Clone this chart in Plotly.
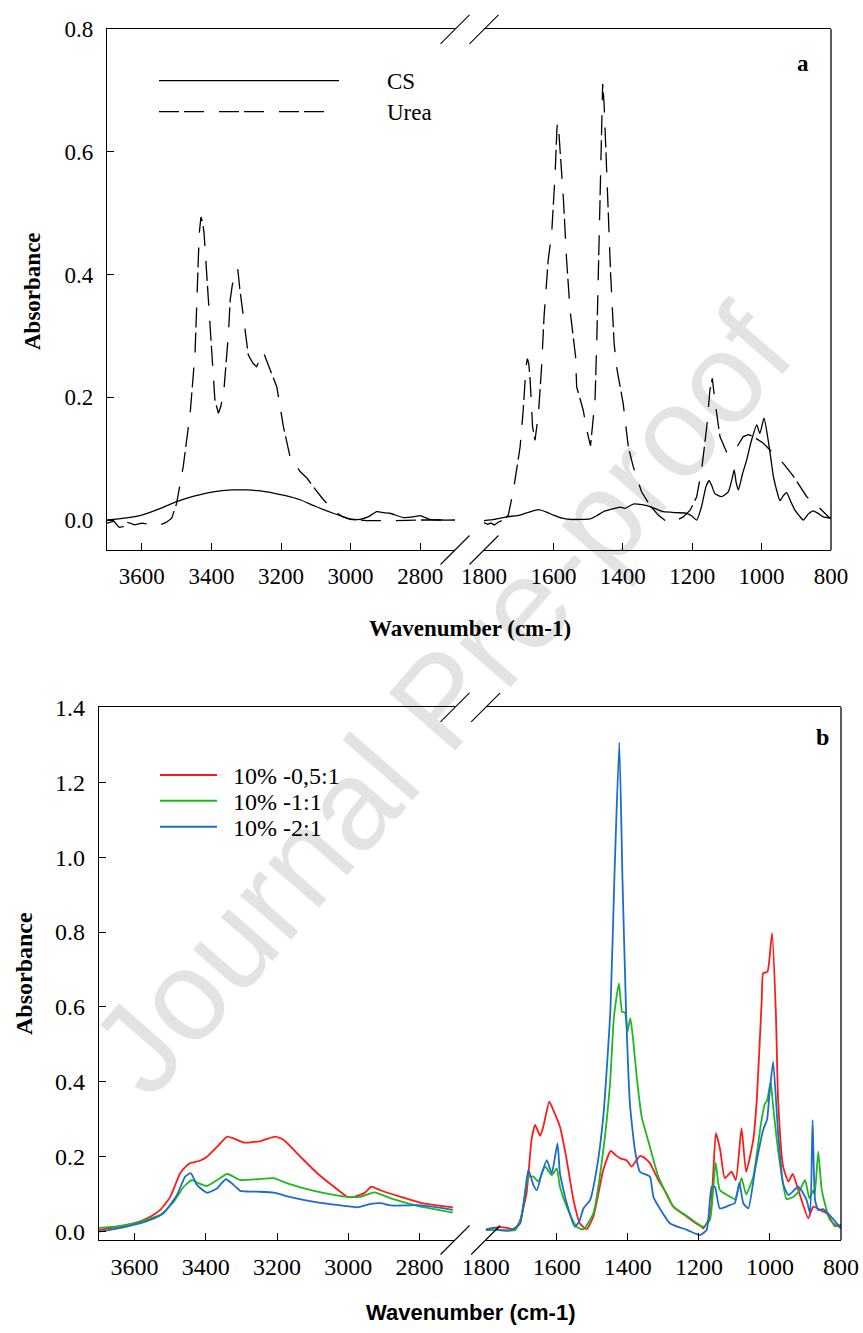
import plotly.graph_objects as go

# ---------------- data (wavenumber cm-1, absorbance) ----------------
cs_wn = [3700, 3650, 3600, 3550, 3500, 3450, 3395, 3340, 3298, 3241, 3190, 3145, 3100, 3050, 3002, 2973,
         2950, 2925, 2905, 2887, 2849, 2820, 2800, 2785, 2772, 2740, 2700,
         1800, 1770, 1735, 1696, 1670, 1643, 1620, 1600, 1575, 1552, 1520, 1494, 1475, 1456, 1430, 1408,
         1394, 1370, 1345, 1322, 1300, 1283, 1245, 1216, 1200, 1187, 1173, 1160, 1151, 1143, 1135, 1116,
         1096, 1086, 1079, 1073, 1067, 1055, 1043, 1030, 1014, 1005, 993, 981, 972, 966, 955, 947, 937,
         928, 916, 904, 890, 880, 865, 851, 835, 822, 800]
cs_abs = [0.000, 0.003, 0.008, 0.018, 0.030, 0.039, 0.046, 0.049, 0.049, 0.046, 0.040, 0.033, 0.022, 0.011,
          0.002, 0.001, 0.005, 0.0135, 0.012, 0.011, 0.004, 0.005, 0.007, 0.004, 0.001, 0.000, 0.000,
          -0.001, 0.001, 0.005, 0.008, 0.013, 0.017, 0.013, 0.008, 0.003, 0.001, 0.001, 0.002, 0.007,
          0.0135, 0.018, 0.021, 0.019, 0.026, 0.025, 0.022, 0.017, 0.0135, 0.012, 0.011, 0.006, 0.000,
          0.022, 0.055, 0.064, 0.055, 0.0435, 0.038, 0.046, 0.065, 0.0815, 0.060, 0.049, 0.075, 0.098,
          0.128, 0.155, 0.141, 0.166, 0.130, 0.095, 0.071, 0.045, 0.0315, 0.040, 0.0445, 0.030, 0.016,
          0.006, 0.000, 0.010, 0.015, 0.010, 0.005, 0.003]

urea_wn = [3700, 3680, 3665, 3654, 3640, 3620, 3600, 3580, 3560, 3548, 3530, 3514, 3500, 3481, 3461, 3447,
           3442, 3435, 3430, 3425, 3421, 3413, 3404, 3399, 3390, 3380, 3373, 3364, 3351, 3346, 3340, 3329,
           3324, 3318, 3308, 3303, 3294, 3280, 3270, 3251, 3240, 3232, 3212, 3193, 3174, 3145, 3125, 3107,
           3078, 3050, 3025, 3002, 2954, 2877, 2800, 2700,
           1800, 1790, 1780, 1770, 1760, 1745, 1730, 1715, 1696, 1687, 1679, 1675, 1671, 1667, 1660, 1653,
           1643, 1634, 1627, 1615, 1605, 1595, 1590, 1588, 1584, 1581, 1571, 1562, 1552, 1536, 1533, 1514,
           1504, 1493, 1480, 1475, 1465, 1461, 1458, 1454, 1444, 1435, 1425, 1418, 1399, 1384, 1370, 1346,
           1322, 1298, 1273, 1254, 1226, 1206, 1187, 1173, 1158, 1149, 1142, 1135, 1120, 1101, 1083, 1072,
           1053, 1038, 1024, 995, 966, 937, 908, 870, 841, 803]
urea_abs = [-0.005, -0.002, -0.012, -0.011, -0.004, -0.008, -0.005, -0.007, -0.009, -0.008, -0.004, 0.003,
            0.027, 0.087, 0.174, 0.272, 0.370, 0.467, 0.494, 0.485, 0.467, 0.397, 0.315, 0.261, 0.196,
            0.174, 0.185, 0.212, 0.304, 0.359, 0.383, 0.409, 0.408, 0.375, 0.331, 0.315, 0.269, 0.255,
            0.250, 0.274, 0.258, 0.245, 0.217, 0.152, 0.103, 0.079, 0.068, 0.054, 0.033, 0.016, 0.006,
            0.001, -0.001, -0.001, 0.000, 0.000,
            -0.004, -0.007, -0.005, -0.008, -0.004, 0.000, 0.008, 0.049, 0.119, 0.179, 0.250, 0.263, 0.255,
            0.228, 0.152, 0.130, 0.174, 0.250, 0.331, 0.424, 0.467, 0.565, 0.636, 0.649, 0.630, 0.608,
            0.522, 0.424, 0.342, 0.266, 0.217, 0.179, 0.147, 0.121, 0.196, 0.290, 0.530, 0.650, 0.711,
            0.680, 0.532, 0.400, 0.288, 0.250, 0.190, 0.119, 0.087, 0.046, 0.024, 0.008, -0.003, -0.003,
            0.005, 0.016, 0.038, 0.0815, 0.152, 0.212, 0.231, 0.196, 0.136, 0.111, 0.108, 0.119, 0.136,
            0.139, 0.136, 0.125, 0.109, 0.092, 0.071, 0.038, 0.024, 0.003]

r05_wn = [3700, 3650, 3603, 3560, 3528, 3500, 3472, 3455, 3444, 3415, 3397, 3368, 3340, 3322, 3293, 3246,
          3228, 3204, 3181, 3134, 3087, 3040, 3002, 2983, 2955, 2935, 2927, 2908, 2852, 2796, 2750, 2706,
          1800, 1780, 1760, 1740, 1718, 1703, 1685, 1671, 1661, 1647, 1638, 1621, 1610, 1591, 1572, 1553,
          1535, 1516, 1497, 1469, 1448, 1435, 1422, 1403, 1389, 1366, 1350, 1338, 1314, 1290, 1272, 1234,
          1206, 1195, 1188, 1169, 1160, 1152, 1140, 1127, 1108, 1096, 1080, 1067, 1047, 1037, 1023, 1019,
          1007, 994, 983, 977, 963, 948, 936, 920, 892, 878, 859, 840, 817, 800]
r05_abs = [0.005, 0.012, 0.022, 0.038, 0.058, 0.093, 0.156, 0.175, 0.183, 0.190, 0.200, 0.227, 0.254, 0.249,
           0.238, 0.242, 0.248, 0.254, 0.245, 0.200, 0.156, 0.120, 0.093, 0.093, 0.103, 0.120, 0.118,
           0.110, 0.093, 0.077, 0.070, 0.065,
           0.006, 0.010, 0.012, 0.010, 0.006, 0.031, 0.103, 0.245, 0.285, 0.256, 0.280, 0.347, 0.325,
           0.280, 0.191, 0.085, 0.022, 0.007, 0.040, 0.165, 0.216, 0.205, 0.196, 0.190, 0.174, 0.202,
           0.195, 0.183, 0.138, 0.100, 0.067, 0.040, 0.021, 0.015, 0.009, 0.040, 0.150, 0.263, 0.218,
           0.143, 0.160, 0.138, 0.276, 0.160, 0.245, 0.352, 0.620, 0.690, 0.694, 0.797, 0.574, 0.352,
           0.174, 0.134, 0.154, 0.111, 0.036, 0.067, 0.058, 0.049, 0.015, 0.018]

r1_wn = [3700, 3650, 3603, 3528, 3490, 3462, 3439, 3420, 3397, 3368, 3340, 3303, 3256, 3209, 3171, 3087,
         3002, 2965, 2927, 2880, 2805, 2706,
         1800, 1760, 1718, 1703, 1689, 1680, 1666, 1652, 1633, 1614, 1600, 1591, 1572, 1544, 1525, 1497,
         1469, 1450, 1439, 1425, 1416, 1408, 1401, 1393, 1385, 1375, 1361, 1338, 1314, 1272, 1234, 1206,
         1188, 1169, 1153, 1141, 1112, 1098, 1080, 1067, 1047, 1025, 1015, 1008, 998, 991, 977, 953, 934,
         916, 901, 889, 878, 874, 864, 854, 831, 800]
r1_abs = [0.010, 0.014, 0.022, 0.045, 0.080, 0.120, 0.138, 0.129, 0.122, 0.138, 0.154, 0.138, 0.140, 0.143,
          0.129, 0.107, 0.093, 0.093, 0.105, 0.089, 0.069, 0.051,
          0.004, 0.004, 0.004, 0.027, 0.103, 0.147, 0.147, 0.134, 0.174, 0.151, 0.169, 0.120, 0.067,
          0.013, 0.006, 0.049, 0.218, 0.396, 0.574, 0.663, 0.587, 0.585, 0.534, 0.570, 0.512, 0.414,
          0.307, 0.227, 0.147, 0.067, 0.042, 0.023, 0.013, 0.031, 0.184, 0.111, 0.093, 0.087, 0.143,
          0.100, 0.147, 0.290, 0.340, 0.350, 0.400, 0.334, 0.218, 0.087, 0.093, 0.111, 0.138, 0.089,
          0.111, 0.098, 0.214, 0.111, 0.031, 0.009]

r2_wn = [3700, 3650, 3603, 3560, 3519, 3481, 3458, 3442, 3425, 3397, 3368, 3344, 3322, 3303, 3256, 3209,
         3162, 3087, 3012, 2974, 2937, 2908, 2880, 2805, 2750, 2706,
         1800, 1785, 1771, 1760, 1730, 1703, 1680, 1666, 1656, 1642, 1628, 1614, 1598, 1591, 1572, 1549,
         1535, 1525, 1506, 1488, 1469, 1449, 1438, 1424, 1415, 1405, 1394, 1380, 1366, 1338, 1328, 1310,
         1281, 1234, 1197, 1178, 1164, 1155, 1141, 1113, 1099, 1086, 1075, 1061, 1042, 1019, 1008, 1002,
         991, 977, 963, 948, 920, 897, 887, 880, 873, 864, 850, 800]
r2_abs = [0.000, 0.008, 0.018, 0.030, 0.049, 0.098, 0.147, 0.156, 0.125, 0.104, 0.116, 0.140, 0.125, 0.109,
          0.107, 0.104, 0.092, 0.078, 0.069, 0.065, 0.074, 0.076, 0.070, 0.071, 0.065, 0.058,
          0.004, 0.008, 0.010, 0.004, 0.004, 0.022, 0.165, 0.125, 0.111, 0.156, 0.191, 0.156, 0.236,
          0.156, 0.076, 0.013, 0.031, 0.062, 0.085, 0.165, 0.307, 0.592, 0.939, 1.306, 0.939, 0.592,
          0.340, 0.218, 0.160, 0.147, 0.093, 0.062, 0.022, 0.005, -0.009, 0.005, 0.120, 0.120, 0.062,
          0.071, 0.076, 0.131, 0.076, 0.062, 0.165, 0.272, 0.300, 0.360, 0.454, 0.263, 0.129, 0.098,
          0.120, 0.085, 0.049, 0.298, 0.085, 0.058, 0.060, 0.009]

left_ticks = [3600, 3400, 3200, 3000, 2800]
right_ticks = [1800, 1600, 1400, 1200, 1000, 800]
ya_ticks = [0.0, 0.2, 0.4, 0.6, 0.8]
yb_ticks = [0.0, 0.2, 0.4, 0.6, 0.8, 1.0, 1.2, 1.4]

series_a = [("CS", cs_wn, cs_abs, "black", "solid"),
            ("Urea", urea_wn, urea_abs, "black", "20px,5px,20px,15px")]
series_b = [("10% -0,5:1", r05_wn, r05_abs, "#ff1a1a", "solid"),
            ("10% -1:1", r1_wn, r1_abs, "#1fb81f", "solid"),
            ("10% -2:1", r2_wn, r2_abs, "#1c6ccc", "solid")]

# ---------------- layout geometry (pixels) ----------------
W, H = 863, 1333
SERIF = "Times New Roman, Liberation Serif, serif"
SANS = "Arial, Liberation Sans, sans-serif"


def fx(p):
    return p / W


def fy(p):
    return 1 - p / H


def split(wn, ab):
    lx = [w for w in wn if w > 2250]
    ly = [a for w, a in zip(wn, ab) if w > 2250]
    rx = [w for w in wn if w <= 2250]
    ry = [a for w, a in zip(wn, ab) if w <= 2250]
    return lx, ly, rx, ry


fig = go.Figure()

for name, wn, ab, col, dash in series_a:
    lx, ly, rx, ry = split(wn, ab)
    shape = "spline" if dash == "solid" else "linear"
    for xs, ys, xa in ((lx, ly, "x"), (rx, ry, "x2")):
        fig.add_trace(go.Scatter(x=xs, y=ys, mode="lines", name=name, xaxis=xa, yaxis="y",
                                 line=dict(color=col, width=1.3, dash=dash, shape=shape, smoothing=0.5),
                                 showlegend=False))

for name, wn, ab, col, dash in series_b:
    lx, ly, rx, ry = split(wn, ab)
    for xs, ys, xa in ((lx, ly, "x3"), (rx, ry, "x4")):
        fig.add_trace(go.Scatter(x=xs, y=ys, mode="lines", name=name, xaxis=xa, yaxis="y2",
                                 line=dict(color=col, width=1.8, shape="spline", smoothing=0.5),
                                 showlegend=False))

axis_common = dict(showline=True, linecolor="black", linewidth=1.3, mirror=True, ticks="inside",
                   ticklen=7, tickcolor="black", tickwidth=1.2, showgrid=False, zeroline=False,
                   automargin=False, ticklabelstandoff=5)
yaxis_common = dict(showline=True, linecolor="black", linewidth=1.3, mirror=False, ticks="inside",
                    ticklen=7, tickcolor="black", tickwidth=1.2, showgrid=False, zeroline=False,
                    automargin=False, tickformat=".1f", ticklabelstandoff=8)

# panel a geometry
A_TOP, A_BOT = 29.3, 550
A_L1, A_R1, A_L2, A_R2 = 107, 455, 484, 831
# panel b geometry
B_TOP, B_BOT = 707.3, 1240
B_L1, B_R1, B_L2, B_R2 = 99, 455, 485.7, 841

fig.update_layout(
    width=W, height=H, margin=dict(l=0, r=0, t=0, b=0, autoexpand=False),
    font=dict(family=SERIF, size=23, color="black"),
    paper_bgcolor="white", plot_bgcolor="white", showlegend=False,
    xaxis=dict(domain=[fx(A_L1), fx(A_R1)], range=[3700, 2700], anchor="y", tickvals=left_ticks,
               tickfont=dict(family=SERIF, size=23, color="black"), **axis_common),
    xaxis2=dict(domain=[fx(A_L2), fx(A_R2)], range=[1800, 800], anchor="y", tickvals=right_ticks,
                tickfont=dict(family=SERIF, size=23, color="black"), **axis_common),
    yaxis=dict(domain=[fy(A_BOT), fy(A_TOP)], range=[-0.0489, 0.8], anchor="x", tickvals=ya_ticks,
               tickfont=dict(family=SERIF, size=23, color="black"), **yaxis_common),
    xaxis3=dict(domain=[fx(B_L1), fx(B_R1)], range=[3700, 2700], anchor="y2", tickvals=left_ticks,
                tickfont=dict(family=SERIF, size=24, color="black"), **axis_common),
    xaxis4=dict(domain=[fx(B_L2), fx(B_R2)], range=[1800, 800], anchor="y2", tickvals=right_ticks,
                tickfont=dict(family=SERIF, size=24, color="black"), **axis_common),
    yaxis2=dict(domain=[fy(B_BOT), fy(B_TOP)], range=[-0.0222, 1.4], anchor="x3", tickvals=yb_ticks,
                tickfont=dict(family=SERIF, size=24, color="black"), **yaxis_common),
)

shapes = []
# right borders
for xr, yr in (("x2 domain", "y domain"), ("x4 domain", "y2 domain")):
    shapes.append(dict(type="line", xref=xr, yref=yr, x0=1, x1=1, y0=0, y1=1,
                       line=dict(color="black", width=1.3)))
# axis-break slashes
for cxs, cys in (((A_R1, A_L2), (A_TOP, A_BOT)), ((B_R1, B_L2), (B_TOP, B_BOT))):
    for cx in cxs:
        for cy in cys:
            shapes.append(dict(type="line", xref="paper", yref="paper",
                               x0=fx(cx - 14.5), y0=fy(cy + 14.5), x1=fx(cx + 14.5), y1=fy(cy - 14.5),
                               line=dict(color="black", width=1.1)))
# legend samples
shapes.append(dict(type="line", xref="paper", yref="paper", x0=fx(159), x1=fx(339), y0=fy(80.7), y1=fy(80.7),
                   line=dict(color="black", width=1.3)))
shapes.append(dict(type="line", xref="paper", yref="paper", x0=fx(159), x1=fx(327), y0=fy(111.7), y1=fy(111.7),
                   line=dict(color="black", width=1.3, dash="20px,5px,20px,15px")))
for (name, wn, ab, col, dash), ly in zip(series_b, (775, 800.7, 826.7)):
    shapes.append(dict(type="line", xref="paper", yref="paper", x0=fx(160), x1=fx(217), y0=fy(ly), y1=fy(ly),
                       line=dict(color=col, width=2)))

annotations = []


def txt(text, x, y, font, xanchor="center", yanchor="middle", angle=0):
    annotations.append(dict(text=text, x=fx(x), y=fy(y), xref="paper", yref="paper", showarrow=False,
                            xanchor=xanchor, yanchor=yanchor, textangle=angle, font=font))


# watermark
annotations.append(dict(text="Journal Pre-proof", x=fx(440), y=fy(700), xref="paper", yref="paper",
                        showarrow=False, textangle=-49,
                        font=dict(family=SANS, size=128, color="rgba(0,0,0,0.11)")))

txt("CS", 385, 82, dict(family=SERIF, size=23, color="black"), xanchor="left")
txt("Urea", 385, 112, dict(family=SERIF, size=23, color="black"), xanchor="left")
for (name, wn, ab, col, dash), ly in zip(series_b, (776, 802, 828)):
    txt(name, 231, ly, dict(family=SERIF, size=24, color="black"), xanchor="left")

txt("<b>a</b>", 803, 64, dict(family=SERIF, size=23, color="black"))
txt("<b>b</b>", 822, 737, dict(family=SERIF, size=24, color="black"))

txt("<b>Absorbance</b>", 33, 291, dict(family=SERIF, size=23, color="black"), angle=-90)
txt("<b>Wavenumber (cm-1)</b>", 470, 628, dict(family=SERIF, size=23, color="black"))
txt("<b>Absorbance</b>", 24, 974, dict(family=SERIF, size=24, color="black"), angle=-90)
txt("<b>Wavenumber (cm-1)</b>", 470, 1312, dict(family=SANS, size=22, color="black"))

fig.update_layout(shapes=shapes, annotations=annotations)

fig.write_html("out.html")
